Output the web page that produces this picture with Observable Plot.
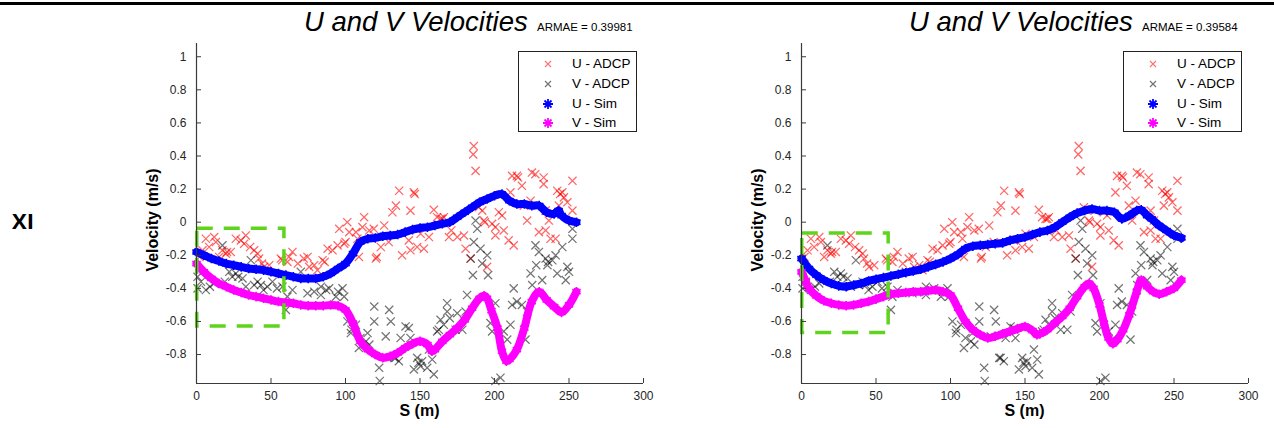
<!DOCTYPE html>
<html><head><meta charset="utf-8">
<script src="https://cdn.jsdelivr.net/npm/d3@7"></script>
<script src="https://cdn.jsdelivr.net/npm/@observablehq/plot@0.6"></script>
<style>
body{margin:0;background:#fff;font-family:"Liberation Sans",Arial,sans-serif;}
#root{position:relative;width:1274px;height:428px;overflow:hidden;background:#fff;}
.topline{position:absolute;left:0;top:2px;width:1274px;height:3px;background:#000;}
.title{position:absolute;top:8px;font-size:27.5px;font-style:italic;line-height:27.5px;color:#000;white-space:nowrap;}
.armae{position:absolute;top:22px;font-size:11.5px;line-height:11.5px;color:#000;white-space:nowrap;}
.ylab{position:absolute;font-weight:bold;font-size:16px;white-space:nowrap;transform:translate(-50%,-50%) rotate(-90deg);}
.xlab{position:absolute;font-weight:bold;font-size:16px;white-space:nowrap;transform:translate(-50%,-50%);}
.rowlab{position:absolute;font-weight:bold;font-size:22px;transform:translate(-50%,-50%);font-family:"Open Sans",sans-serif;}
.panel{position:absolute;top:30px;}
.legend{position:absolute;top:51px;width:117px;height:79px;border:1.3px solid #222;background:#fff;font-size:13.5px;}
.legend .ent{position:absolute;left:0;height:20px;width:117px;}
.legend svg{position:absolute;left:21px;top:2px;}
.legend span{position:absolute;left:53px;top:2px;line-height:16px;color:#000;}
</style></head>
<body><div id="root"></div>
<script>
// ---------------- data ----------------
const sTicks = [0, 50, 100, 150, 200, 250, 300];
const vTicks = [-0.8, -0.6, -0.4, -0.2, 0, 0.2, 0.4, 0.6, 0.8, 1];
const sDomain = [0, 300];
const vDomain = [-0.975, 1.08];
const rowLabel = "XI";
const panelTitles = ["U and V Velocities", "U and V Velocities"];
const armaeValues = ["0.39981", "0.39584"];
const seriesNames = ["U - ADCP", "V - ADCP", "U - Sim", "V - Sim"];

// ADCP measurements (same in both panels)
const adcpS_U = [6.3,11.9,8.5,4,17.4,19.7,23,15.2,26.4,29.8,33.1,32,38.7,41,42,45.4,48.8,56.6,62,64.4,61,74.5,75.6,79,81.2,84.6,88,91.3,94.7,95.8,99.1,101.2,102.5,107,108,111.4,112.5,109,119,120.4,126,123.7,131.5,133.8,136,145.9,143.6,159.3,163.8,166,161.5,142.5,138,143.6,148.1,152.6,150.4,156,169.4,175,179.5,180.6,184,186.1,185.7,187.3,189.5,191.8,192.9,198.4,200.6,195,202.9,205.1,209.5,212.9,210.7,211.8,215.8,218.4,225.1,227.4,233,233,221.9,224.2,219.7,229.8,234.3,237.6,241,236.5,242.1,245.5,246.6,248.9,243.2,252.3,252.3,200.6,206.2,234.3,20.5,44,57.5,86,100,121,146.5,165,193.5,215,244,2,13,36,68,72,116,129,171];
const adcpU   = [-0.10,-0.09,-0.15,-0.17,-0.17,-0.19,-0.18,-0.21,-0.10,-0.11,-0.08,-0.13,-0.17,-0.19,-0.22,-0.27,-0.26,-0.22,-0.21,-0.18,-0.24,-0.21,-0.27,-0.26,-0.29,-0.23,-0.16,-0.17,-0.14,-0.04,-0.13,0.0,-0.06,-0.06,-0.10,-0.03,0.03,-0.21,-0.04,-0.22,-0.02,-0.15,0.06,0.10,0.19,0.18,0.07,0.075,0.02,0.03,0.03,-0.11,-0.20,-0.17,-0.15,-0.16,-0.07,-0.09,-0.09,-0.09,-0.08,-0.16,-0.22,0.46,0.41,0.31,0.09,0.07,0.01,-0.01,-0.03,-0.27,0.06,0.04,-0.11,-0.14,0.18,0.28,0.27,0.22,0.30,0.29,0.27,0.23,0.01,0.13,0.10,-0.06,-0.05,-0.10,-0.10,0.01,0.19,0.18,0.15,0.12,0.10,0.25,0.07,-0.08,-0.05,0.07,-0.18,-0.25,-0.23,-0.24,-0.12,-0.21,0.17,0.02,0.0,0.28,0.17,-0.21,-0.12,-0.15,-0.25,-0.22,-0.05,-0.12,-0.05];
const adcpS_V = [0.7,0.7,6.3,11.9,17.4,22,26.4,30.9,33.1,36.5,38.7,43.2,47.6,51,57.7,60,64.4,70,74.5,83.5,83.5,89,93.6,98,99.1,101.3,103.6,107,109,114.8,119.3,119.3,127,129.3,130.4,122.6,123,132.7,113.7,187.3,188.4,186.1,190.6,195.1,191.7,195.7,185.5,227.5,229.8,245.5,234.3,238.8,235.5,242.1,248.9,252.3,252.3,247.8,224.2,225.3,232,212.9,211.8,218.4,221.9,220.8,210.7,206.2,208.5,197.3,198.4,200.6,204,200.6,181.6,180.6,168.2,168.2,163.8,166,162.6,175,161.5,173.9,178.4,140.3,142.5,143.6,148.1,151.4,150.4,154.8,145.9,159.3,158.2,135.8,133.6,156,3,9,28,41,45,61,95,104,149,236,241,19,24,54,79,87,110,116,137,170,184,215,228,250];
const adcpV   = [-0.33,-0.40,-0.41,-0.37,-0.14,-0.30,-0.31,-0.34,-0.39,-0.23,-0.38,-0.38,-0.39,-0.36,-0.39,-0.53,-0.41,-0.30,-0.43,-0.39,-0.44,-0.40,-0.45,-0.40,-0.45,-0.60,-0.67,-0.62,-0.76,-0.67,-0.60,-0.51,-0.69,-0.53,-0.60,-0.88,-0.96,-0.82,-0.72,0.01,-0.04,-0.12,-0.16,-0.20,-0.25,-0.32,-0.32,-0.14,-0.18,-0.15,-0.22,-0.23,-0.26,-0.31,-0.27,-0.04,-0.10,-0.35,-0.31,-0.38,-0.35,-0.40,-0.50,-0.50,-0.54,-0.71,-0.62,-0.66,-0.71,-0.61,-0.66,-0.49,-0.94,-0.96,-0.44,-0.54,-0.49,-0.54,-0.59,-0.62,-0.65,-0.55,-0.66,-0.65,-0.65,-0.63,-0.64,-0.70,-0.82,-0.84,-0.87,-0.88,-0.89,-0.92,-0.83,-0.84,-0.82,-0.77,-0.36,-0.39,-0.33,-0.36,-0.41,-0.45,-0.42,-0.65,-0.85,-0.24,-0.20,-0.36,-0.33,-0.40,-0.42,-0.41,-0.70,-0.74,-0.70,-0.58,-0.22,-0.48,-0.26,-0.30];

// Simulated velocities, left panel
const simS_U1 = [0,5,10,15,20,25,30,35,40,45,50,55,60,65,70,75,80,85,90,95,100,105,110,115,120,125,130,135,140,145,150,155,160,165,170,175,180,185,190,195,200,205,210,215,220,225,230,235,240,243,245,250,255];
const simU1   = [-0.18,-0.20,-0.22,-0.235,-0.25,-0.26,-0.27,-0.28,-0.285,-0.29,-0.30,-0.31,-0.32,-0.33,-0.34,-0.34,-0.34,-0.33,-0.31,-0.28,-0.25,-0.19,-0.12,-0.10,-0.095,-0.085,-0.08,-0.075,-0.06,-0.045,-0.035,-0.03,-0.02,-0.01,0.0,0.03,0.06,0.09,0.12,0.14,0.16,0.17,0.13,0.11,0.11,0.10,0.10,0.06,0.05,0.07,0.04,0.01,0.0];
const simS_V1 = [0,5,10,15,20,25,30,35,40,45,50,55,60,65,70,75,80,85,90,95,100,105,110,115,120,125,130,135,140,145,150,155,158,160,165,170,175,180,185,190,193,195,198,202,205,208,210,215,220,225,230,235,240,245,250,255];
const simV1   = [-0.25,-0.30,-0.34,-0.37,-0.39,-0.41,-0.425,-0.44,-0.45,-0.46,-0.47,-0.48,-0.485,-0.49,-0.50,-0.505,-0.505,-0.505,-0.50,-0.505,-0.53,-0.61,-0.72,-0.77,-0.80,-0.82,-0.81,-0.79,-0.76,-0.735,-0.72,-0.74,-0.78,-0.77,-0.72,-0.68,-0.64,-0.59,-0.52,-0.46,-0.445,-0.46,-0.535,-0.64,-0.78,-0.84,-0.83,-0.77,-0.64,-0.48,-0.42,-0.47,-0.51,-0.545,-0.50,-0.42];

// Simulated velocities, right panel
const simS_U2 = [0,5,10,15,20,25,30,35,40,45,50,55,60,65,70,75,80,85,90,95,100,105,110,115,120,125,130,135,140,145,150,155,160,165,170,175,180,185,190,195,200,205,210,215,220,225,228,232,235,240,245,250,255];
const simU2   = [-0.22,-0.28,-0.32,-0.35,-0.37,-0.385,-0.39,-0.38,-0.37,-0.355,-0.345,-0.335,-0.325,-0.315,-0.305,-0.295,-0.285,-0.27,-0.255,-0.24,-0.22,-0.195,-0.16,-0.145,-0.14,-0.135,-0.13,-0.125,-0.11,-0.10,-0.09,-0.075,-0.06,-0.05,-0.03,0.0,0.03,0.055,0.07,0.08,0.07,0.07,0.06,0.02,0.04,0.07,0.075,0.04,0.02,-0.02,-0.05,-0.08,-0.095];
const simS_V2 = [0,3,5,10,15,20,25,30,35,40,45,50,55,60,65,70,75,80,85,90,95,100,105,110,115,120,125,130,135,140,145,150,155,158,160,165,170,175,180,185,190,193,196,200,203,206,209,212,216,220,225,228,232,236,240,245,250,255];
const simV2   = [-0.30,-0.36,-0.40,-0.445,-0.475,-0.49,-0.50,-0.505,-0.50,-0.49,-0.48,-0.465,-0.45,-0.435,-0.43,-0.425,-0.42,-0.42,-0.415,-0.41,-0.42,-0.44,-0.52,-0.60,-0.65,-0.68,-0.70,-0.69,-0.675,-0.66,-0.645,-0.63,-0.655,-0.68,-0.675,-0.65,-0.61,-0.57,-0.52,-0.45,-0.39,-0.37,-0.40,-0.50,-0.61,-0.70,-0.735,-0.71,-0.65,-0.56,-0.42,-0.35,-0.39,-0.42,-0.435,-0.42,-0.40,-0.35];

// highlighted region (S from, S to, V top, V bottom)
const boxS1 = [0.5, 59], boxV1 = [-0.04, -0.63];
const boxS2 = [0.5, 58.5], boxV2 = [-0.068, -0.67];

// ---------------- drawing ----------------
const colors = {u: "#ff0000", v: "#000000", uSim: "#0000ff", vSim: "#ff00ff", box: "#5fd41c"};
const root = document.getElementById("root");
const zip = (xs, ys) => xs.map((s, i) => ({s, v: ys[i]}));

function el(cls, text, css) {
  const d = document.createElement("div");
  d.className = cls; d.textContent = text;
  Object.assign(d.style, css || {});
  root.appendChild(d);
  return d;
}

function legendSymbol(kind, color) {
  const ns = "http://www.w3.org/2000/svg";
  const svg = document.createElementNS(ns, "svg");
  svg.setAttribute("width", 16); svg.setAttribute("height", 16);
  const p = document.createElementNS(ns, "path");
  if (kind === "x") {
    p.setAttribute("d", "M5,5L11,11M11,5L5,11");
    p.setAttribute("stroke-opacity", 0.55);
    p.setAttribute("stroke-width", 1.2);
  } else {
    p.setAttribute("d", "M8,3L8,13M3,8L13,8M4.5,4.5L11.5,11.5M11.5,4.5L4.5,11.5");
    p.setAttribute("stroke-width", 1.8);
  }
  p.setAttribute("stroke", color); p.setAttribute("fill", "none");
  svg.appendChild(p);
  return svg;
}

function panel(cfg) {
  const W = 520, H = 390, mL = 56, mR = 17, mT = 13, mB = 37;
  const uS = zip(adcpS_U, adcpU), vS = zip(adcpS_V, adcpV);
  const us = zip(cfg.simS_U, cfg.simU), vs = zip(cfg.simS_V, cfg.simV);
  const box = [{x1: cfg.boxS[0], x2: cfg.boxS[1], y1: cfg.boxV[0], y2: cfg.boxV[1]}];
  const chart = Plot.plot({
    width: W, height: H,
    marginLeft: mL, marginRight: mR, marginTop: mT, marginBottom: mB,
    x: {domain: sDomain},
    y: {domain: vDomain},
    style: {fontFamily: "'Liberation Sans', Arial, sans-serif", fontSize: "12px", color: "#262626", background: "transparent", overflow: "visible"},
    marks: [
      Plot.dot(uS, {x: "s", y: "v", symbol: "times", r: 3.8, stroke: colors.u, strokeOpacity: 0.6, strokeWidth: 1.25}),
      Plot.dot(vS, {x: "s", y: "v", symbol: "times", r: 3.8, stroke: colors.v, strokeOpacity: 0.55, strokeWidth: 1.25}),
      Plot.line(us, {x: "s", y: "v", stroke: colors.uSim, strokeWidth: 8, curve: "catmull-rom"}),
      Plot.dot(us, {x: "s", y: "v", symbol: "asterisk", r: 4.5, stroke: colors.uSim, strokeWidth: 1.6}),
      Plot.line(vs, {x: "s", y: "v", stroke: colors.vSim, strokeWidth: 8, curve: "catmull-rom"}),
      Plot.dot(vs, {x: "s", y: "v", symbol: "asterisk", r: 4.5, stroke: colors.vSim, strokeWidth: 1.6}),
      Plot.rect(box, {x1: "x1", x2: "x2", y1: "y1", y2: "y2", fill: "none", stroke: colors.box, strokeWidth: 3.5, strokeDasharray: "16,11"}),
      Plot.ruleX([sDomain[0]], {stroke: "#3a3a3a", strokeWidth: 1.2}),
      Plot.ruleY([vDomain[0]], {stroke: "#3a3a3a", strokeWidth: 1.2}),
      Plot.axisX({ticks: sTicks, tickSize: -5, tickPadding: 13, label: null, stroke: "#3a3a3a"}),
      Plot.axisY({ticks: vTicks, tickSize: -5, tickPadding: 15, label: null, stroke: "#3a3a3a", tickFormat: d => String(d)})
    ]
  });
  chart.classList.add("panel");
  chart.style.left = cfg.left + "px";
  chart.style.position = "absolute";
  chart.style.top = "30px";
  root.appendChild(chart);

  const x0 = cfg.left + mL, x1 = cfg.left + W - mR;
  el("ylab", "Velocity (m/s)", {left: (x0 - 43) + "px", top: "220px"});
  el("xlab", "S (m)", {left: ((x0 + x1) / 2) + "px", top: "411px"});
  el("title", cfg.title, {left: (x0 + 108) + "px"});
  el("armae", "ARMAE = " + cfg.armae, {left: (x0 + 341) + "px"});

  const lg = el("legend", "", {left: (x1 - 125) + "px"});
  const kinds = [["x", colors.u], ["x", colors.v], ["s", colors.uSim], ["s", colors.vSim]];
  seriesNames.forEach((n, i) => {
    const e = document.createElement("div");
    e.className = "ent"; e.style.top = (2 + i * 19.8) + "px";
    e.appendChild(legendSymbol(kinds[i][0], kinds[i][1]));
    const sp = document.createElement("span"); sp.textContent = n;
    e.appendChild(sp);
    lg.appendChild(e);
  });
}

el("topline", "");
el("rowlab", rowLabel, {left: "23px", top: "220px"});
panel({left: 140, title: panelTitles[0], armae: armaeValues[0], simS_U: simS_U1, simU: simU1, simS_V: simS_V1, simV: simV1, boxS: boxS1, boxV: boxV1});
panel({left: 745, title: panelTitles[1], armae: armaeValues[1], simS_U: simS_U2, simU: simU2, simS_V: simS_V2, simV: simV2, boxS: boxS2, boxV: boxV2});
</script>
</body></html>
